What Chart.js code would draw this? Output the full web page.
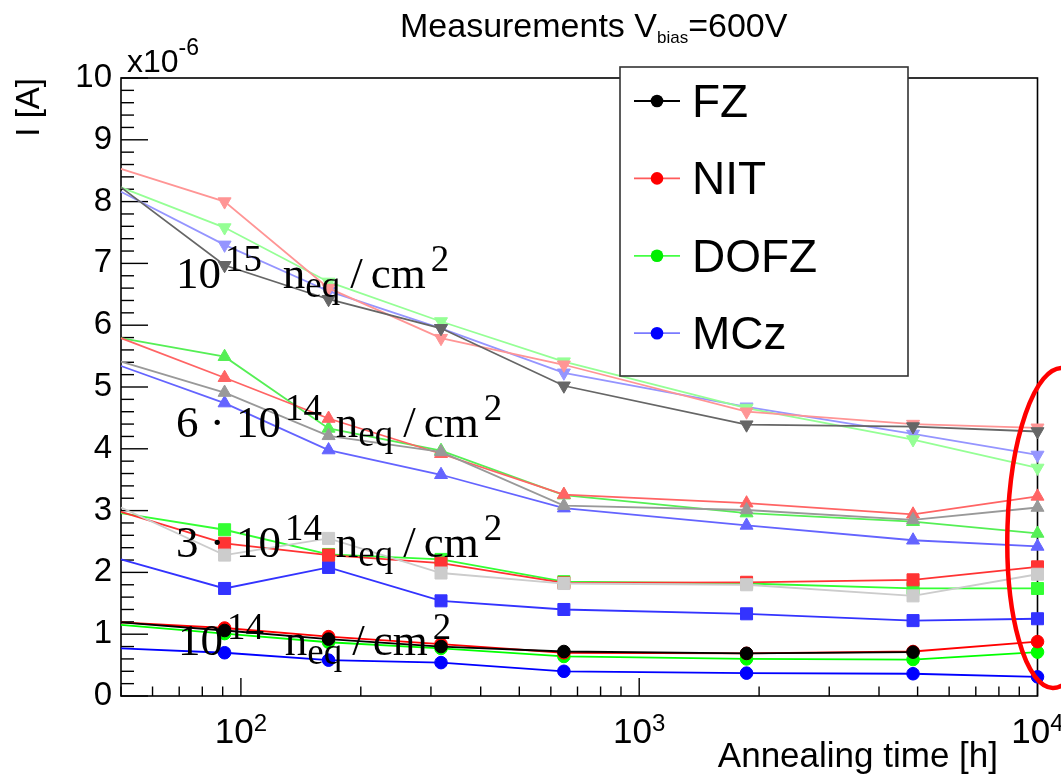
<!DOCTYPE html>
<html>
<head>
<meta charset="utf-8">
<script src="https://cdn.jsdelivr.net/npm/chart.js@4/dist/chart.umd.min.js"></script>
<style>
  html, body { margin: 0; padding: 0; background: #fff; }
  #wrap { width: 1061px; height: 776px; }
</style>
</head>
<body>
<div id="wrap"><canvas id="grafico" width="1061" height="776"></canvas></div>
<script>
// ======== DADOS ========
const tempos = [50, 91, 166, 318, 647, 1860, 4870, 10000];
const materiais = ['FZ', 'NIT', 'DOFZ', 'MCz'];
const xTickLabels = [100, 1000, 10000];
const yTickLabels = [0, 1, 2, 3, 4, 5, 6, 7, 8, 9, 10];

// 1e14 neq/cm2
const fz_1e14   = [1.19, 1.06, 0.92, 0.80, 0.72, 0.69, 0.71, null];
const nit_1e14  = [1.19, 1.10, 0.96, 0.84, 0.70, 0.69, 0.72, 0.88];
const dofz_1e14 = [1.15, 1.01, 0.87, 0.77, 0.64, 0.60, 0.59, 0.71];
const mcz_1e14  = [0.77, 0.70, 0.58, 0.54, 0.40, 0.37, 0.36, 0.31];
// 3e14
const fz_3e14   = [3.05, 2.28, 2.55, 1.99, 1.82, 1.80, 1.62, 1.97];
const nit_3e14  = [2.98, 2.47, 2.28, 2.15, 1.83, 1.84, 1.88, 2.09];
const dofz_3e14 = [2.96, 2.69, 2.29, 2.21, 1.85, 1.82, 1.74, 1.74];
const mcz_3e14  = [2.21, 1.74, 2.08, 1.54, 1.40, 1.33, 1.22, 1.25];
// 6e14
const fz_6e14   = [5.41, 4.91, 4.21, 3.95, 3.08, 3.01, 2.85, 3.05];
const nit_6e14  = [5.79, 5.15, 4.49, 3.92, 3.26, 3.12, 2.94, 3.23];
const dofz_6e14 = [5.79, 5.49, 4.33, 3.97, 3.25, 2.96, 2.82, 2.63];
const mcz_6e14  = [5.34, 4.74, 3.98, 3.58, 3.04, 2.76, 2.52, 2.42];
// 1e15
const fz_1e15   = [8.23, 6.97, 6.42, 5.95, 5.02, 4.39, 4.36, 4.28];
const nit_1e15  = [8.53, 8.00, 6.60, 5.79, 5.36, 4.60, 4.40, 4.34];
const dofz_1e15 = [8.23, 7.58, 6.70, 6.06, 5.41, 4.66, 4.15, 3.69];
const mcz_1e15  = [8.16, 7.30, 6.55, 5.95, 5.23, 4.68, 4.24, 3.90];

// ======== ESTILOS ========
const grupos = [
  { series: [fz_1e15, nit_1e15, dofz_1e15, mcz_1e15], cores: ['#666666', '#ff9595', '#95ff95', '#9595ff'], estilo: 'triangle', rot: 180, r: 7.5 },
  { series: [fz_6e14, nit_6e14, dofz_6e14, mcz_6e14], cores: ['#999999', '#ff6464', '#55ef55', '#6464ff'], estilo: 'triangle', rot: 0, r: 7.5 },
  { series: [fz_3e14, nit_3e14, dofz_3e14, mcz_3e14], cores: ['#cccccc', '#ff3333', '#33ff33', '#3333ff'], estilo: 'rect', rot: 0, r: 8.5 },
  { series: [fz_1e14, nit_1e14, dofz_1e14, mcz_1e14], cores: ['#000000', '#ff0000', '#00ff00', '#0000ff'], estilo: 'circle', rot: 0, r: 6.3 }
];

const legendaLinha = ['#000000', '#ff5a5a', '#44ff44', '#7a7aff'];
const legendaPonto = ['#000000', '#ff0000', '#00ee00', '#0000ff'];

// texto das fluências: [texto, tipo, espaço antes]
const rotulosFluencia = [
  { t: 68.7, v: 6.60, partes: [['10', 'n'], ['15', 'sup', 4], ['n', 'n', 21], ['eq', 'sub'], ['/', 'n', 10], ['cm', 'n', 8], ['2', 'sup', 5]] },
  { t: 68.7, v: 4.19, partes: [['6 \u00b7 10', 'n'], ['14', 'sup', 4], ['n', 'n', 14], ['eq', 'sub'], ['/', 'n', 10], ['cm', 'n', 8], ['2', 'sup', 5]] },
  { t: 68.7, v: 2.25, partes: [['3 \u00b7 10', 'n'], ['14', 'sup', 4], ['n', 'n', 14], ['eq', 'sub'], ['/', 'n', 10], ['cm', 'n', 8], ['2', 'sup', 5]] },
  { t: 69.5, v: 0.66, partes: [['10', 'n'], ['14', 'sup', 4], ['n', 'n', 21], ['eq', 'sub'], ['/', 'n', 10], ['cm', 'n', 8], ['2', 'sup', 5]] }
];

const datasets = [];
grupos.forEach(g => {
  g.series.forEach((serie, i) => {
    datasets.push({
      label: materiais[i],
      data: serie.map((v, k) => ({ x: tempos[k], y: v })),
      borderColor: g.cores[i],
      backgroundColor: g.cores[i],
      pointBackgroundColor: g.cores[i],
      pointBorderColor: g.cores[i],
      borderWidth: 1.8,
      pointBorderWidth: 1,
      pointStyle: g.estilo,
      pointRotation: g.rot,
      pointRadius: ctx => ctx.dataIndex === 0 ? 0 : g.r,
      tension: 0,
      clip: false
    });
  });
});

// ======== TEXTO COM SOBRESCRITO ========
function textoRico(ctx, x, y, partes, fam, tam, fator) {
  let cx = x;
  partes.forEach(([t, tipo, gap]) => {
    cx += gap || 0;
    let s = tam, dy = 0;
    if (tipo === 'sup') { s = tam * fator; dy = -tam * 0.37; }
    if (tipo === 'sub') { s = tam * fator; dy = tam * 0.19; }
    ctx.font = `${s}px ${fam}`;
    ctx.fillText(t, cx, y + dy);
    cx += ctx.measureText(t).width;
  });
  return cx;
}

function linha(ctx, x1, y1, x2, y2) {
  ctx.beginPath();
  ctx.moveTo(x1, y1);
  ctx.lineTo(x2, y2);
  ctx.stroke();
}

const SANS = '"Liberation Sans", Arial, sans-serif';
const SERIF = '"Liberation Serif", "Times New Roman", serif';

const estiloRoot = {
  id: 'estiloRoot',
  beforeDatasetsDraw(chart) {
    const { ctx, chartArea: a, scales: { x, y } } = chart;
    ctx.save();
    ctx.strokeStyle = '#000';
    ctx.lineWidth = 1.6;
    ctx.strokeRect(a.left, a.top, a.right - a.left, a.bottom - a.top);

    ctx.lineWidth = 1.4;
    // ticks do eixo y (para dentro)
    for (let i = 0; i <= 50; i++) {
      const py = y.getPixelForValue(i / 5);
      linha(ctx, a.left, py, a.left + (i % 5 === 0 ? 27 : 13), py);
    }
    // ticks do eixo x (log)
    for (let d = 1; d <= 4; d++) {
      for (let m = 1; m <= 9; m++) {
        const v = m * Math.pow(10, d);
        if (v < 50 || v > 10000) continue;
        const px = x.getPixelForValue(v);
        linha(ctx, px, a.bottom, px, a.bottom - (m === 1 ? 18 : 9.5));
      }
    }
    ctx.restore();
  },
  afterDraw(chart) {
    const { ctx, chartArea: a, scales: { x, y } } = chart;
    ctx.save();
    ctx.fillStyle = '#000';
    ctx.textBaseline = 'alphabetic';
    ctx.textAlign = 'left';

    // rótulos do eixo x: 10^n
    xTickLabels.forEach(v => {
      const px = x.getPixelForValue(v);
      const exp = String(Math.round(Math.log10(v)));
      ctx.font = `35px ${SANS}`;
      const w1 = ctx.measureText('10').width;
      ctx.font = `24px ${SANS}`;
      const w2 = ctx.measureText(exp).width;
      const x0 = px - (w1 + w2) / 2;
      ctx.font = `35px ${SANS}`;
      ctx.fillText('10', x0, 743);
      ctx.font = `24px ${SANS}`;
      ctx.fillText(exp, x0 + w1, 731);
    });

    // título
    textoRico(ctx, 400, 37, [['Measurements V', 'n'], ['bias', 'sub'], ['=600V', 'n']], SANS, 34, 0.5);

    // x10^-6
    ctx.font = `32px ${SANS}`;
    ctx.fillText('x10', 127, 72);
    const wx = ctx.measureText('x10').width;
    ctx.font = `23px ${SANS}`;
    ctx.fillText('-6', 127 + wx, 55);

    // título eixo y
    ctx.save();
    ctx.translate(39, a.top);
    ctx.rotate(-Math.PI / 2);
    ctx.textAlign = 'right';
    ctx.font = `33px ${SANS}`;
    ctx.fillText('I [A]', 0, 0);
    ctx.restore();

    // título eixo x
    ctx.textAlign = 'right';
    ctx.font = `35px ${SANS}`;
    ctx.fillText('Annealing time [h]', 998, 767);
    ctx.textAlign = 'left';

    // rótulos das fluências
    rotulosFluencia.forEach(r => {
      textoRico(ctx, x.getPixelForValue(r.t), y.getPixelForValue(r.v), r.partes, SERIF, 45, 0.82);
    });

    // legenda
    const lx = 620, ly = 67, lw = 288, lh = 309;
    ctx.fillStyle = '#fff';
    ctx.fillRect(lx, ly, lw, lh);
    ctx.strokeStyle = '#333';
    ctx.lineWidth = 1.6;
    ctx.strokeRect(lx, ly, lw, lh);
    materiais.forEach((m, i) => {
      const cy = 101 + i * 77.4;
      ctx.strokeStyle = legendaLinha[i];
      ctx.lineWidth = 1.8;
      linha(ctx, 634, cy, 680, cy);
      ctx.fillStyle = legendaPonto[i];
      ctx.beginPath();
      ctx.arc(657, cy, 6.3, 0, Math.PI * 2);
      ctx.fill();
      ctx.fillStyle = '#000';
      ctx.font = `46px ${SANS}`;
      ctx.fillText(m, 692, cy + 16);
    });

    // elipse vermelha destacando 10^4 h
    const ex = x.getPixelForValue(10000) + 20;
    const ey = y.getPixelForValue(2.72);
    const ry = y.getPixelForValue(0.13) - ey;
    ctx.strokeStyle = '#ff0000';
    ctx.lineWidth = 4.5;
    ctx.beginPath();
    ctx.ellipse(ex, ey, 50, ry, 0.03, 0, Math.PI * 2);
    ctx.stroke();
    ctx.restore();
  }
};

const grafico = new Chart(document.getElementById('grafico').getContext('2d'), {
  type: 'line',
  data: { datasets },
  options: {
    responsive: false,
    animation: false,
    devicePixelRatio: 1,
    layout: { padding: { top: 78, right: 23.5, left: 0, bottom: 0 } },
    plugins: { legend: { display: false }, tooltip: { enabled: false }, title: { display: false } },
    scales: {
      x: {
        type: 'logarithmic',
        min: 50,
        max: 10000,
        grid: { display: false, drawTicks: false },
        border: { display: false },
        ticks: { display: false },
        afterFit: s => { s.height = 80; }
      },
      y: {
        min: 0,
        max: 10,
        grid: { display: false, drawTicks: false },
        border: { display: false },
        afterBuildTicks: s => { s.ticks = yTickLabels.map(v => ({ value: v })); },
        ticks: { color: '#000', padding: 9, font: { family: SANS, size: 33 } },
        afterFit: s => { s.width = 121; }
      }
    }
  },
  plugins: [estiloRoot]
});
</script>
</body>
</html>
